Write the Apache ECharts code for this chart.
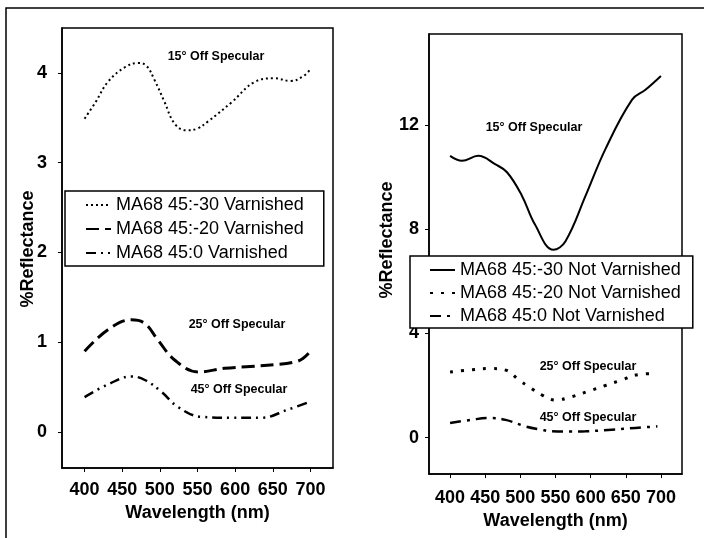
<!DOCTYPE html>
<html>
<head>
    <meta charset="utf-8">
    <title>Reflectance vs wavelength</title>
    <script type="text/javascript" src="https://cdn.jsdelivr.net/npm/echarts@6.0.0/dist/echarts.min.js"></script>
    <style type="text/css">
        body{ margin: 0; background: #fff; }
        #chart{ width: 704px; height: 538px; }
    </style>
</head>
<body>
<div id="chart"></div>
<script type="text/javascript">
    // 数据
    let wavelengthTicks = [400, 450, 500, 550, 600, 650, 700]
    let leftTicks = [0, 1, 2, 3, 4]
    let rightTicks = [0, 4, 8, 12]

    // 左图: Varnished
    let wlV30 = [400, 415, 431, 453, 471, 482, 493, 506, 520, 535, 550, 564, 595, 626, 652, 674, 690, 700]
    let valV30 = [3.49, 3.68, 3.90, 4.06, 4.11, 4.08, 3.92, 3.68, 3.43, 3.36, 3.38, 3.46, 3.67, 3.90, 3.94, 3.91, 3.96, 4.04]
    let wlV20 = [400, 431, 462, 480, 497, 520, 551, 586, 620, 652, 679, 690, 700]
    let valV20 = [0.90, 1.14, 1.25, 1.21, 1.03, 0.80, 0.67, 0.71, 0.73, 0.75, 0.78, 0.82, 0.90]
    let wlV0 = [400, 431, 462, 480, 502, 524, 555, 595, 635, 670, 700]
    let valV0 = [0.39, 0.53, 0.62, 0.58, 0.45, 0.28, 0.17, 0.16, 0.16, 0.25, 0.34]

    // 右图: Not Varnished
    let wlN30 = [400, 417, 440, 464, 481, 502, 521, 547, 564, 593, 621, 659, 678, 700]
    let valN30 = [10.82, 10.63, 10.82, 10.50, 10.19, 9.30, 8.17, 7.21, 7.53, 9.30, 11.08, 12.98, 13.36, 13.89]
    let wlN20 = [400, 430, 455, 479, 498, 515, 531, 550, 573, 597, 621, 645, 664, 690]
    let valN20 = [2.52, 2.60, 2.65, 2.59, 2.21, 1.90, 1.63, 1.44, 1.57, 1.78, 2.00, 2.22, 2.40, 2.46]
    let wlN0 = [400, 430, 455, 479, 507, 530, 545, 570, 593, 630, 664, 695]
    let valN0 = [0.56, 0.68, 0.75, 0.68, 0.43, 0.30, 0.24, 0.23, 0.24, 0.30, 0.37, 0.43]

    let namesLeft = ['MA68 45:-30 Varnished', 'MA68 45:-20 Varnished', 'MA68 45:0 Varnished']
    let namesRight = ['MA68 45:-30 Not Varnished', 'MA68 45:-20 Not Varnished', 'MA68 45:0 Not Varnished']

    function pairs(wl, val) {
        return wl.map(function (w, i) { return [w, val[i]] })
    }

    let font = 'Liberation Sans'
    let tickLabel = {color: '#000', fontSize: 18, fontWeight: 'bold', fontFamily: font}

    function xAxis(idx, margin, gap) {
        return {
            type: 'value', gridIndex: idx, min: 370, max: 730,
            name: 'Wavelength (nm)', nameLocation: 'middle', nameGap: gap,
            nameTextStyle: {color: '#000', fontSize: 18, fontWeight: 'bold', fontFamily: font},
            axisLine: {onZero: false, lineStyle: {color: '#000', width: 1.5}},
            axisTick: {customValues: wavelengthTicks, length: 4, lineStyle: {color: '#000'}},
            axisLabel: Object.assign({customValues: wavelengthTicks, margin: margin}, tickLabel),
            splitLine: {show: false}
        }
    }

    function yAxis(idx, min, max, ticks, margin) {
        return {
            type: 'value', gridIndex: idx, min: min, max: max,
            axisLine: {show: true, onZero: false, lineStyle: {color: '#000', width: 1.5}},
            axisTick: {show: true, customValues: ticks, length: 4, lineStyle: {color: '#000'}},
            axisLabel: Object.assign({customValues: ticks, margin: margin}, tickLabel),
            splitLine: {show: false}
        }
    }

    function line(name, idx, data, width, dash) {
        return {
            name: name, type: 'line', xAxisIndex: idx, yAxisIndex: idx,
            data: data, smooth: 0.4, symbol: 'none', silent: true, color: '#000',
            lineStyle: {color: '#000', width: width, type: dash}
        }
    }

    function legend(names, left, top, padding, gap) {
        return {
            data: names, orient: 'vertical', left: left, top: top,
            itemWidth: 25, itemHeight: 14, itemGap: gap, padding: padding,
            backgroundColor: '#fff', borderColor: '#000', borderWidth: 1.5,
            itemStyle: {opacity: 0},
            textStyle: {color: '#000', fontSize: 18, fontFamily: font},
            selectedMode: false
        }
    }

    function note(text, x, y) {
        return {
            type: 'text', x: x, y: y, z: 10,
            style: {text: text, fill: '#000', font: 'bold 12.5px "Liberation Sans"', align: 'center', verticalAlign: 'middle'}
        }
    }

    function yName(x, y) {
        return {
            type: 'text', x: x, y: y, rotation: Math.PI / 2, z: 10,
            style: {text: '%Reflectance', fill: '#000', font: 'bold 18px "Liberation Sans"', align: 'center', verticalAlign: 'middle'}
        }
    }

    let chart = echarts.init(document.getElementById('chart'), null, {renderer: 'canvas'})
    chart.setOption({
        animation: false,
        backgroundColor: '#fff',
        grid: [
            {left: 62, top: 28, width: 271, height: 440, show: true, borderColor: '#000', borderWidth: 1.5},
            {left: 429, top: 34, width: 253, height: 440, show: true, borderColor: '#000', borderWidth: 1.5}
        ],
        xAxis: [xAxis(0, 13, 31), xAxis(1, 15, 34)],
        yAxis: [yAxis(0, -0.4, 4.5, leftTicks, 15), yAxis(1, -1.4, 15.5, rightTicks, 10)],
        legend: [
            legend(namesLeft, 65, 191, [5, 20, 4, 20], 6),
            legend(namesRight, 410, 256, [5, 12, 3, 19], 5)
        ],
        series: [
            line(namesLeft[0], 0, pairs(wlV30, valV30), 2, [2, 3]),
            line(namesLeft[1], 0, pairs(wlV20, valV20), 3, [13, 6]),
            line(namesLeft[2], 0, pairs(wlV0, valV0), 2.5, [10, 5, 2, 5, 2, 5]),
            line(namesRight[0], 1, pairs(wlN30, valN30), 2, 'solid'),
            line(namesRight[1], 1, pairs(wlN20, valN20), 3, [3, 8]),
            line(namesRight[2], 1, pairs(wlN0, valN0), 2.5, [11, 6, 3, 6])
        ],
        graphic: [
            {type: 'polyline', shape: {points: [[6, 538], [6, 8], [704, 8]]}, style: {stroke: '#000', lineWidth: 1.5, fill: null}},
            yName(28, 249),
            yName(387, 240),
            note('15° Off Specular', 216, 57),
            note('25° Off Specular', 237, 325),
            note('45° Off Specular', 239, 390),
            note('15° Off Specular', 534, 128),
            note('25° Off Specular', 588, 367),
            note('45° Off Specular', 588, 418)
        ]
    })
</script>
</body>
</html>
